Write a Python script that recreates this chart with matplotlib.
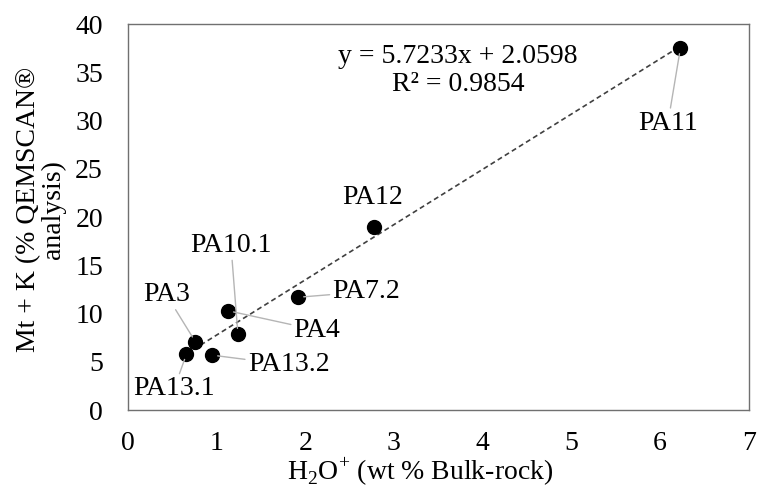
import numpy as np
import matplotlib.pyplot as plt

plt.rcParams['font.family'] = ['Liberation Serif', 'DejaVu Serif']
plt.rcParams['mathtext.fontset'] = 'custom'
plt.rcParams['mathtext.rm'] = 'Liberation Serif'

# data
samples = ['PA11', 'PA12', 'PA7.2', 'PA10.1', 'PA4', 'PA3', 'PA13.1', 'PA13.2']
h2o = [6.23, 2.77, 1.92, 1.24, 1.13, 0.76, 0.66, 0.95]
mtk = [37.5, 19.0, 11.7, 7.9, 10.3, 7.1, 5.8, 5.7]

slope = 5.7233
intercept = 2.0598
r2 = 0.9854

# label offsets in points (layout only)
offsets = {
    'PA11': (-9, -54),
    'PA12': (-1, 21),
    'PA7.2': (49, 4),
    'PA10.1': (-5, 64),
    'PA4': (64, -14),
    'PA3': (-21, 34),
    'PA13.1': (-9, -25),
    'PA13.2': (55, -7),
}
no_leader = ['PA12']

FS = 20

fig = plt.figure(figsize=(7.57, 4.93), dpi=100)
ax = fig.add_axes([0.169, 0.168, 0.820, 0.783])

# trendline
xs = np.array([min(h2o), max(h2o)])
ax.plot(xs, slope * xs + intercept, color='#404040', lw=1.2,
        linestyle=(0, (3, 2)), zorder=2)

ax.plot(h2o, mtk, 'o', color='black', markersize=10, zorder=3)

for name, x, y in zip(samples, h2o, mtk):
    dx, dy = offsets[name]
    props = None
    if name not in no_leader:
        props = dict(arrowstyle='-', color='#b5b5b5', lw=1.0,
                     shrinkA=0, shrinkB=4)
    ax.annotate(name, xy=(x, y), xytext=(dx, dy), textcoords='offset points',
                ha='center', va='center', fontsize=FS, color='black',
                arrowprops=props, zorder=4)

ax.text(0.532, 0.88, f'y = {slope}x + {intercept}\nR² = {r2}',
        transform=ax.transAxes, ha='center', va='center', fontsize=FS,
        linespacing=1.18)

ax.set_xlim(0, 7)
ax.set_ylim(0, 40)
ax.set_xticks(range(0, 8))
ax.set_yticks(range(0, 41, 5))
ax.tick_params(length=0, labelsize=FS)
ax.tick_params(axis='x', pad=15)
ax.tick_params(axis='y', pad=18)

for s in ax.spines.values():
    s.set_color('#707070')
    s.set_linewidth(1.0)

ax.set_xlabel(r'H$_\mathregular{2}$O$^\mathregular{+}$ (wt % Bulk-rock)',
              fontsize=FS, va='baseline')
ax.xaxis.set_label_coords(0.47, -0.181)
ax.set_ylabel('Mt + K (% QEMSCAN®\nanalysis)', fontsize=FS, va='center',
              linespacing=0.95)
ax.yaxis.set_label_coords(-0.14, 0.52)

fig.savefig('out.png', dpi=100)
